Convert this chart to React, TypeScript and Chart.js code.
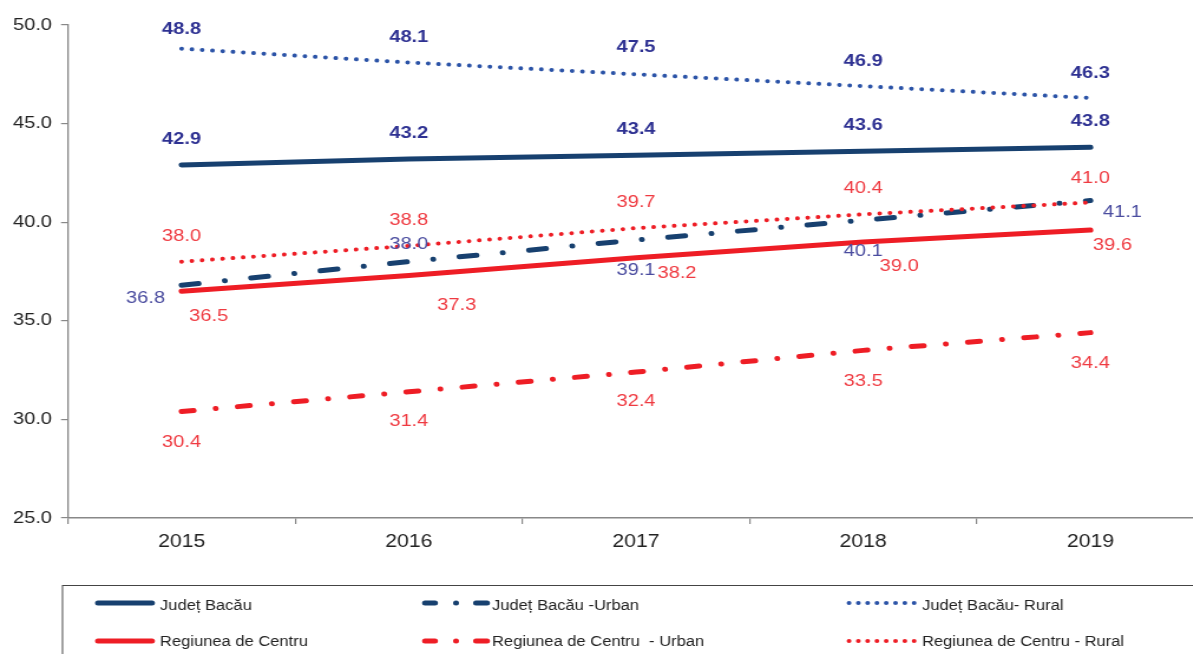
import React, { useEffect, useRef } from 'react';
import { Chart, registerables } from 'chart.js';

Chart.register(...registerables);

// ---------------- data ----------------
const categories = ['2015', '2016', '2017', '2018', '2019'];
const bacau = [42.9, 43.2, 43.4, 43.6, 43.8];
const bacauUrban = [36.8, 38.0, 39.1, 40.1, 41.1];
const bacauRural = [48.8, 48.1, 47.5, 46.9, 46.3];
const centru = [36.5, 37.3, 38.2, 39.0, 39.6];
const centruUrban = [30.4, 31.4, 32.4, 33.5, 34.4];
const centruRural = [38.0, 38.8, 39.7, 40.4, 41.0];
const yMin = 25;
const yMax = 50;
const yStep = 5;

const seriesNames = [
  'Județ Bacău',
  'Județ Bacău -Urban',
  'Județ Bacău- Rural',
  'Regiunea de Centru',
  'Regiunea de Centru  - Urban',
  'Regiunea de Centru - Rural',
];

// ---------------- layout (screen px offsets of value labels) ----------------
const offBacau = [[0, -27], [0, -27], [0, -27], [0, -27], [0, -27]];
const offBacauUrban = [[-36, 12], [0, -19], [0, 29], [0, 29.5], [32, 10]];
const offBacauRural = [[0, -20.7], [0, -27], [0, -28], [0, -26.4], [0, -26]];
const offCentru = [[27, 24], [48, 28], [41, 14.5], [36, 23], [22, 14]];
const offCentruUrban = [[0, 29.5], [0, 28.5], [0, 28], [0, 29.6], [0, 29]];
const offCentruRural = [[0, -26.7], [0, -27.2], [0, -27], [0, -27], [0, -26]];

// ---------------- canvas geometry ----------------
const PHYS_W = 1220;
const LOG_W = 1034;
const H = 654;
const S = PHYS_W / LOG_W; // horizontal stretch of the original picture
const L = (px: number) => px / S;

const FONT = '"Liberation Sans", Arial, Helvetica, sans-serif';
const NAVY = '#17406F';
const BLUE_DOT = '#2B53A7';
const RED = '#EE1D25';
const LBL_BOLD = '#2E3192';
const LBL_BLUE = '#4A4C9F';
const LBL_RED = '#EF3A41';
const AXIS = '#888888';
const TEXT = '#222222';

const LABEL_SIZE = 17;

type Style = 'solid' | 'dashdot' | 'dot';

const DASH_BLUE = [14.5, 22.4, 0.01, 22.4];
const DASH_RED = [10.25, 18.8, 0.01, 18.8];
const DOTS = [0.01, 8.72];

const SERIES = [
  { name: seriesNames[0], data: bacau, color: NAVY, style: 'solid' as Style, dash: [] as number[], width: 5, labelColor: LBL_BOLD, bold: true, offsets: offBacau, order: 2 },
  { name: seriesNames[1], data: bacauUrban, color: NAVY, style: 'dashdot' as Style, dash: DASH_BLUE, width: 5, labelColor: LBL_BLUE, bold: false, offsets: offBacauUrban, order: 3 },
  { name: seriesNames[2], data: bacauRural, color: BLUE_DOT, style: 'dot' as Style, dash: DOTS, width: 4, labelColor: LBL_BOLD, bold: true, offsets: offBacauRural, order: 2 },
  { name: seriesNames[3], data: centru, color: RED, style: 'solid' as Style, dash: [] as number[], width: 5, labelColor: LBL_RED, bold: false, offsets: offCentru, order: 2 },
  { name: seriesNames[4], data: centruUrban, color: RED, style: 'dashdot' as Style, dash: DASH_RED, width: 5, labelColor: LBL_RED, bold: false, offsets: offCentruUrban, order: 2 },
  { name: seriesNames[5], data: centruRural, color: RED, style: 'dot' as Style, dash: DOTS, width: 4, labelColor: LBL_RED, bold: false, offsets: offCentruRural, order: 1 },
];

// legend geometry (screen px)
const LEG_LINE_X = [95, 422, 847];
const LEG_TEXT_X = [160, 492, 922];
const LEG_LINE_Y = [603, 641];
const LEG_TEXT_BASE = [609.5, 645.5];
const LEG_FONT = 14;

function drawSample(ctx: CanvasRenderingContext2D, style: Style, color: string, col: number, yy: number) {
  const x0 = LEG_LINE_X[col];
  ctx.save();
  ctx.strokeStyle = color;
  ctx.lineCap = 'round';
  const seg = (a: number, b: number, w: number) => {
    ctx.lineWidth = w;
    ctx.beginPath();
    ctx.moveTo(L(a), yy);
    ctx.lineTo(L(b), yy);
    ctx.stroke();
  };
  if (style === 'solid') {
    seg(x0 + 3, x0 + 57, 5);
  } else if (style === 'dashdot') {
    seg(x0 + 3, x0 + 13, 5);
    seg(x0 + 34, x0 + 34.05, 5);
    seg(x0 + 54, x0 + 65, 5);
  } else {
    for (let i = 0; i < 8; i++) {
      const cx = x0 + 2 + i * 9.3;
      seg(cx, cx + 0.05, 4);
    }
  }
  ctx.restore();
}

const overlayPlugin = {
  id: 'overlay',
  afterDatasetsDraw(chart: any) {
    const ctx: CanvasRenderingContext2D = chart.ctx;
    const xs = chart.scales.x;
    const ys = chart.scales.y;
    SERIES.forEach((s) => {
      ctx.save();
      ctx.font = `${s.bold ? 'bold ' : ''}${LABEL_SIZE}px ${FONT}`;
      ctx.fillStyle = s.labelColor;
      ctx.textAlign = 'center';
      ctx.textBaseline = 'alphabetic';
      s.data.forEach((v, i) => {
        const [dx, dy] = s.offsets[i];
        const x = xs.getPixelForValue(i) + L(dx);
        const y = ys.getPixelForValue(v) + dy + 0.358 * LABEL_SIZE;
        ctx.fillText(v.toFixed(1), x, y);
      });
      ctx.restore();
    });
  },
  afterDraw(chart: any) {
    const ctx: CanvasRenderingContext2D = chart.ctx;
    ctx.save();
    // legend frame
    ctx.strokeStyle = '#444444';
    ctx.lineWidth = 1;
    ctx.strokeRect(L(62.5), 585.5, LOG_W, 100);
    ctx.font = `${LEG_FONT}px ${FONT}`;
    ctx.fillStyle = TEXT;
    ctx.textAlign = 'left';
    ctx.textBaseline = 'alphabetic';
    SERIES.forEach((s, idx) => {
      const row = Math.floor(idx / 3);
      const col = idx % 3;
      drawSample(ctx, s.style, s.color, col, LEG_LINE_Y[row]);
      ctx.fillText(s.name, L(LEG_TEXT_X[col]), LEG_TEXT_BASE[row]);
    });
    ctx.restore();
  },
};

export default function App() {
  const ref = useRef<HTMLCanvasElement | null>(null);

  useEffect(() => {
    const canvas = ref.current;
    if (!canvas) return;
    const chart = new Chart(canvas, {
      type: 'line',
      data: {
        labels: categories,
        datasets: SERIES.map((s) => ({
          label: s.name,
          data: s.data,
          borderColor: s.color,
          backgroundColor: s.color,
          borderWidth: s.width,
          borderDash: s.dash,
          borderCapStyle: 'round',
          borderJoinStyle: 'round',
          pointRadius: 0,
          pointHoverRadius: 0,
          tension: 0,
          fill: false,
          order: s.order,
        })),
      } as any,
      options: {
        responsive: false,
        maintainAspectRatio: false,
        devicePixelRatio: 1,
        animation: false,
        events: [],
        layout: {
          padding: { top: 25, right: LOG_W - L(1204), bottom: 96, left: 0 },
        },
        plugins: {
          legend: { display: false },
          tooltip: { enabled: false },
          title: { display: false },
        },
        scales: {
          x: {
            type: 'category',
            offset: true,
            grid: {
              offset: true,
              drawOnChartArea: false,
              drawTicks: true,
              tickLength: 6,
              color: AXIS,
              lineWidth: 1.2,
            },
            border: { display: true, color: AXIS, width: 1.5 },
            ticks: {
              color: TEXT,
              font: { family: FONT, size: 18 },
              padding: 7,
              maxRotation: 0,
              autoSkip: false,
            },
            afterFit: (scale: any) => {
              scale.height = 40;
            },
          },
          y: {
            type: 'linear',
            min: yMin,
            max: yMax,
            ticks: {
              stepSize: yStep,
              color: TEXT,
              font: { family: FONT, size: 17 },
              padding: L(9),
              callback: (v: any) => Number(v).toFixed(1),
            },
            grid: {
              drawOnChartArea: false,
              drawTicks: true,
              tickLength: L(7),
              color: AXIS,
              lineWidth: 1.2,
            },
            border: { display: true, color: AXIS, width: 1.3 },
            afterFit: (scale: any) => {
              scale.width = L(68);
            },
          },
        },
      } as any,
      plugins: [overlayPlugin],
    });
    return () => chart.destroy();
  }, []);

  return (
    <div
      style={{
        position: 'fixed',
        left: 0,
        top: 0,
        width: 1193,
        height: H,
        overflow: 'hidden',
        background: '#ffffff',
      }}
    >
      <canvas
        ref={ref}
        width={LOG_W}
        height={H}
        style={{ width: PHYS_W + 'px', height: H + 'px', display: 'block' }}
      />
    </div>
  );
}
